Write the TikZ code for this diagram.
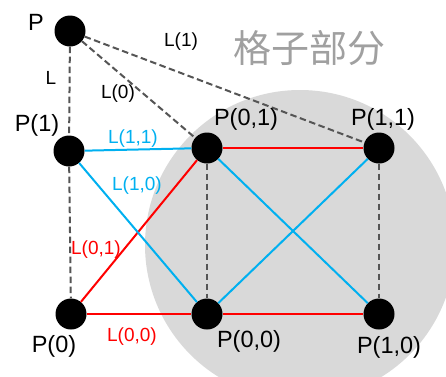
\documentclass[tikz,border=0pt]{standalone}
\usepackage{fontspec}
\setmainfont{Liberation Sans}
\newfontfamily\cjk{Noto Sans CJK SC}
\definecolor{lblue}{RGB}{0,176,240}
\definecolor{lred}{RGB}{255,0,0}
\definecolor{dgray}{RGB}{85,85,85}
\definecolor{cgray}{RGB}{217,217,217}
\definecolor{tgray}{RGB}{160,160,160}
\begin{document}
\begin{tikzpicture}[x=1pt,y=-1pt,
  dot/.style={circle,fill=black,inner sep=0pt,minimum size=31pt},
  plab/.style={font=\fontsize{23.5}{23.5}\selectfont,inner sep=0pt},
  llab/.style={font=\fontsize{19}{19}\selectfont,inner sep=0pt},
  redl/.style={draw=lred,line width=2pt},
  bluel/.style={draw=lblue,line width=2pt},
  dashl/.style={draw=dgray,line width=2pt,dash pattern=on 6.5pt off 3.5pt}]
\useasboundingbox (0,0) rectangle (446,376);
\begin{scope}
\clip (0,0) rectangle (446,376);
\fill[cgray] (300,245) circle (155);
\end{scope}
\node[dot] (P) at (70,31) {};
\node[dot] (P1) at (69,151) {};
\node[dot] (P0) at (71,314) {};
\node[dot] (P01) at (207,148) {};
\node[dot] (P11) at (379,148) {};
\node[dot] (P00) at (207,314) {};
\node[dot] (P10) at (379,314) {};
% dashed
\draw[dashl] (P) -- (P1);
\draw[dashl] (P1) -- (P0);
\draw[dashl] (P) -- (P01);
\draw[dashl] (P) -- (P11);
\draw[dashl] (P01) -- (P00);
\draw[dashl] (P11) -- (P10);
% red
\draw[redl] (P01) -- (P11);
\draw[redl] (P0) -- (P01);
\draw[redl] (P0) -- (P00);
\draw[redl] (P00) -- (P10);
% blue
\draw[bluel] (P1) -- (P01);
\draw[bluel] (P1) -- (P00);
\draw[bluel] (P00) -- (P11);
\draw[bluel] (P01) -- (P10);
% labels
\node[plab] (tP) at (36,22) {P};
\node[plab] (tP1) at (37,125) {P(1)};
\node[plab] (tP0) at (54,346) {P(0)};
\node[plab] (tP01) at (246,119) {P(0,1)};
\node[plab] (tP11) at (383,119) {P(1,1)};
\node[plab] (tP00) at (249,341) {P(0,0)};
\node[plab] (tP10) at (389,347) {P(1,0)};
\node[llab] (tL) at (51,78) {L};
\node[llab] (tL0) at (118,94) {L(0)};
\node[llab] (tL1) at (181,42) {L(1)};
\node[llab,text=lblue] (tL11) at (133,139) {L(1,1)};
\node[llab,text=lblue] (tL10) at (137,186) {L(1,0)};
\node[llab,text=lred] (tL01) at (96,250) {L(0,1)};
\node[llab,text=lred] (tL00) at (132,337) {L(0,0)};
\node[inner sep=0pt,text=tgray,font=\cjk\fontsize{38}{38}\selectfont] (title) at (309,48) {格子部分};
\end{tikzpicture}
\end{document}
